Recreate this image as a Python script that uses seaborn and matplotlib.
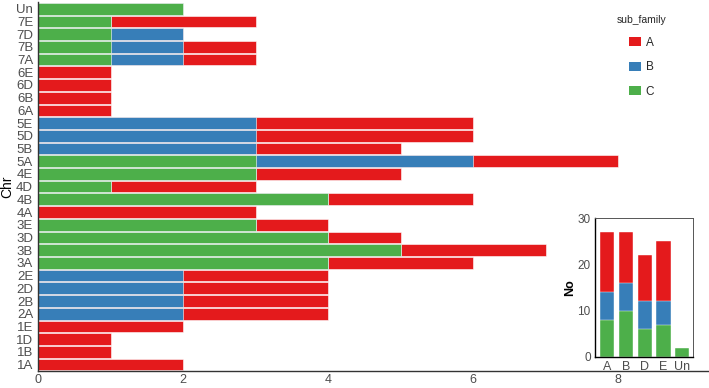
import matplotlib
matplotlib.use("Agg")
import matplotlib.pyplot as plt
from matplotlib.patches import Patch
import pandas as pd
import seaborn as sns

# chromosomes, top to bottom as drawn
chrs = ["Un", "7E", "7D", "7B", "7A", "6E", "6D", "6B", "6A",
        "5E", "5D", "5B", "5A", "4E", "4D", "4B", "4A",
        "3E", "3D", "3B", "3A", "2E", "2D", "2B", "2A",
        "1E", "1D", "1B", "1A"]
# counts per sub family
count_c = [2, 1, 1, 1, 1, 0, 0, 0, 0,
           0, 0, 0, 3, 3, 1, 4, 0,
           3, 4, 5, 4, 0, 0, 0, 0,
           0, 0, 0, 0]
count_b = [0, 0, 1, 1, 1, 0, 0, 0, 0,
           3, 3, 3, 3, 0, 0, 0, 0,
           0, 0, 0, 0, 2, 2, 2, 2,
           0, 0, 0, 0]
count_a = [0, 2, 0, 1, 1, 1, 1, 1, 1,
           3, 3, 2, 2, 2, 2, 2, 3,
           1, 1, 2, 2, 2, 2, 2, 2,
           2, 1, 1, 2]

genomes = ["A", "B", "D", "E", "Un"]
colors = {"A": "#E41A1C", "B": "#377EB8", "C": "#4DAF4A"}

df = pd.DataFrame({"Chr": chrs, "C": count_c, "B": count_b, "A": count_a})
df["cum_c"] = df["C"]
df["cum_b"] = df["C"] + df["B"]
df["cum_a"] = df["C"] + df["B"] + df["A"]

grey = "#4D4D4D"
sns.set_style("white")
plt.rcParams["font.family"] = ["Liberation Sans", "DejaVu Sans"]

fig = plt.figure(figsize=(7.09, 3.88), dpi=100)
ax = fig.add_axes([0.0536, 0.044, 0.946, 0.950])

# stacked horizontal bars: draw totals first, then overlay partial sums
for col, key in [("cum_a", "A"), ("cum_b", "B"), ("cum_c", "C")]:
    sns.barplot(data=df, x=col, y="Chr", order=chrs, orient="h",
                color=colors[key], saturation=1, width=0.92,
                edgecolor="white", linewidth=0.4, ax=ax)

ax.set_xlim(0, 9.25)
ax.set_ylim(len(chrs) - 0.5, -0.5)
ax.set_xticks([0, 2, 4, 6, 8])
ax.set_xlabel("")
ax.set_ylabel("Chr", fontsize=10, color="black", labelpad=1)
ax.tick_params(axis="y", labelsize=9.5, colors=grey, length=2, pad=1.5)
ax.tick_params(axis="x", labelsize=9, colors=grey, length=2, pad=0.5)
for s in ["top", "right"]:
    ax.spines[s].set_visible(False)
for s in ["left", "bottom"]:
    ax.spines[s].set_color("#333333")
    ax.spines[s].set_linewidth(1.0)

handles = [Patch(facecolor=colors[k], edgecolor="none") for k in ["A", "B", "C"]]
leg = ax.legend(handles, ["A", "B", "C"], title="sub_family", frameon=False,
                loc="upper left", bbox_to_anchor=(0.855, 0.99),
                bbox_transform=fig.transFigure, fontsize=8.5, title_fontsize=7.5,
                handlelength=1.0, handleheight=0.8, labelspacing=1.05,
                handletextpad=0.4)

# inset: totals per genome
df["Genome"] = [c if c == "Un" else c[1] for c in chrs]
gsum = df.groupby("Genome")[["C", "B", "A"]].sum().reindex(genomes).reset_index()
gsum["cum_c"] = gsum["C"]
gsum["cum_b"] = gsum["C"] + gsum["B"]
gsum["cum_a"] = gsum["C"] + gsum["B"] + gsum["A"]

ins = fig.add_axes([0.839, 0.080, 0.138, 0.358])
for col, key in [("cum_a", "A"), ("cum_b", "B"), ("cum_c", "C")]:
    sns.barplot(data=gsum, x="Genome", y=col, order=genomes,
                color=colors[key], saturation=1, width=0.75,
                edgecolor="white", linewidth=0.3, ax=ins)
ins.set_xlim(-0.65, 4.55)
ins.set_ylim(0, 30)
ins.set_yticks([0, 10, 20, 30])
ins.set_xlabel("")
ins.set_ylabel("No", fontsize=9, fontweight="bold", color="black", labelpad=1)
ins.tick_params(axis="both", labelsize=8.5, colors=grey, length=2, pad=1)
ins.tick_params(axis="x", labelsize=9)
for s in ["left", "bottom"]:
    ins.spines[s].set_color("black")
    ins.spines[s].set_linewidth(1.0)
for s in ["top", "right"]:
    ins.spines[s].set_color("#555555")
    ins.spines[s].set_linewidth(0.7)

fig.savefig("out.png", dpi=100)
